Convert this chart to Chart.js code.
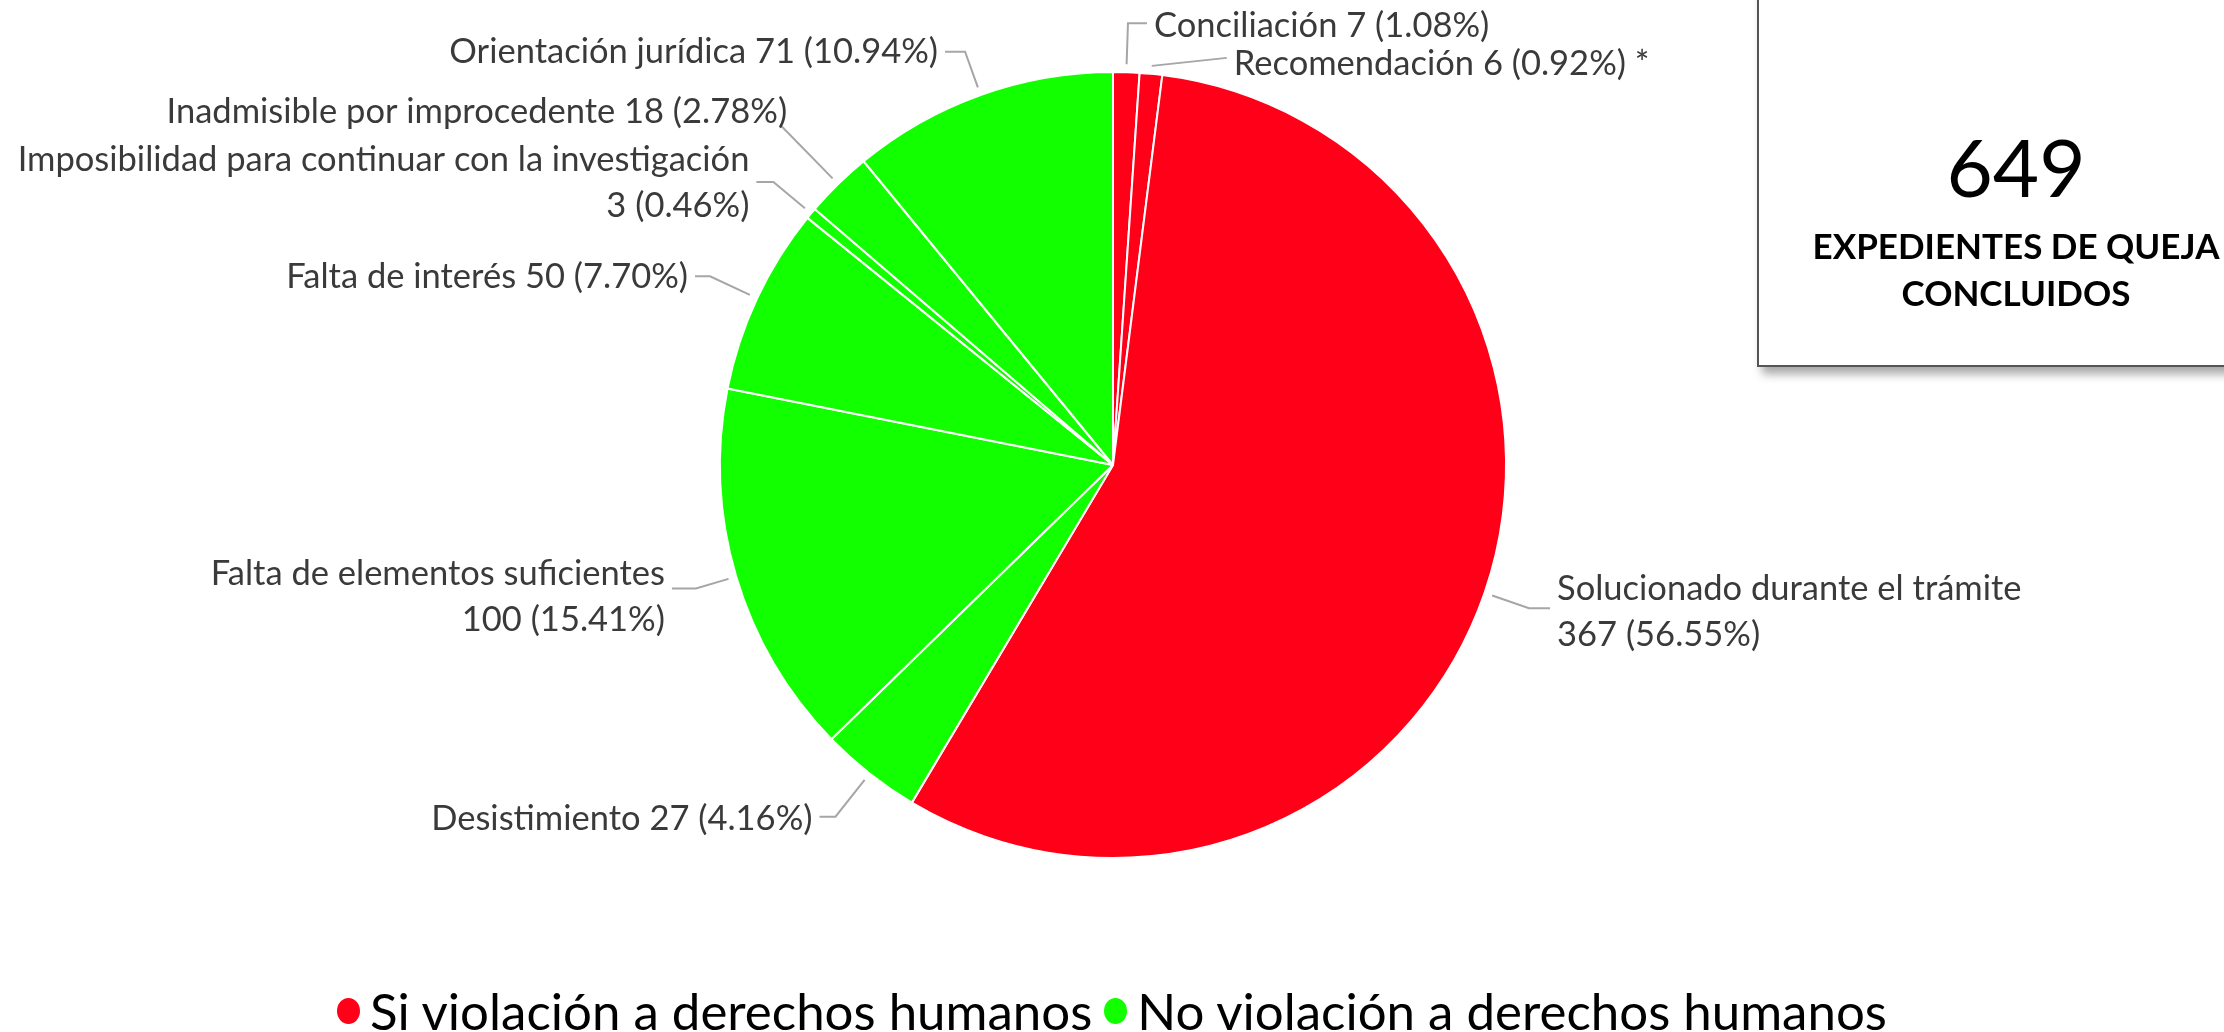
<!DOCTYPE html>
<html>
<head>
<meta charset="utf-8">
<script src="https://cdn.jsdelivr.net/npm/chart.js@4.4.1/dist/chart.umd.min.js"></script>
<style>
html,body{margin:0;padding:0;background:#fff;overflow:hidden}
#wrap{position:relative;width:2224px;height:1032px;overflow:hidden;background:#fff}
#c{position:absolute;left:0;top:0}
#box{position:absolute;left:1757px;top:-30px;width:540px;height:393px;border:2px solid #555;background:#fff;box-shadow:5px 7px 9px rgba(0,0,0,0.35)}
.bt{position:absolute;left:1766px;width:500px;text-align:center;color:#000;font-family:Lato,"Open Sans",sans-serif;white-space:nowrap}
#num{top:118px;font-size:80px;line-height:96px;font-weight:400}
#t1{top:223px;font-size:35px;line-height:44px;font-weight:700}
#t2{top:270px;font-size:35px;line-height:44px;font-weight:700}
#legend{position:absolute;left:0;width:2224px;top:985px;height:52px;display:flex;justify-content:center;align-items:center;font-family:Lato,"Open Sans",sans-serif;font-size:51px;line-height:52px;color:#000;white-space:nowrap}
.li{display:flex;align-items:center;margin:0 6px}
.dot{display:inline-block;width:23px;height:26px;border-radius:50%;margin-right:10px}
</style>
</head>
<body>
<div id="wrap">
  <canvas id="c" width="2224" height="1032"></canvas>
  <div id="box"></div>
  <div class="bt" id="num">649</div>
  <div class="bt" id="t1">EXPEDIENTES DE QUEJA</div>
  <div class="bt" id="t2">CONCLUIDOS</div>
  <div id="legend"></div>
</div>
<script>
// ---- data ----
const categories = [
  "Conciliación",
  "Recomendación",
  "Solucionado durante el trámite",
  "Desistimiento",
  "Falta de elementos suficientes",
  "Falta de interés",
  "Imposibilidad para continuar con la investigación",
  "Inadmisible por improcedente",
  "Orientación jurídica"
];
const values = [7, 6, 367, 27, 100, 50, 3, 18, 71];
const percentLabels = ["1.08", "0.92", "56.55", "4.16", "15.41", "7.70", "0.46", "2.78", "10.94"];
const groups = [0, 0, 0, 1, 1, 1, 1, 1, 1]; // 0 = Si violación, 1 = No violación
const labelSuffix = ["", " *", "", "", "", "", "", "", ""];
const lineBreak = [false, false, true, false, true, false, true, false, false];
const groupNames = ["Si violación a derechos humanos", "No violación a derechos humanos"];
const groupColors = ["#FF0018", "#12FF00"];
const totalLabel = "649";

// ---- label layout (styling only): [radial extension, dx, dy, textDy] ----
const labelLayout = [
  [49, 19, 0, 3],
  [8, 75, -8, 6],
  [47, 21, 0, 4],
  [55, -16, 0, 2],
  [42, -24, 0, 8],
  [52, -15, 0, 1],
  [49, -17, 0, 1],
  [83, 0, 0, -13],
  [46, -20, 0, 0]
];

function labelLines(i) {
  const tail = values[i] + " (" + percentLabels[i] + "%)" + labelSuffix[i];
  return lineBreak[i] ? [categories[i], tail] : [categories[i] + " " + tail];
}

const labelPlugin = {
  id: 'pieLabels',
  afterDraw(chart) {
    const ctx = chart.ctx;
    const meta = chart.getDatasetMeta(0);
    ctx.save();
    ctx.font = '34.5px Lato, "Open Sans", sans-serif';
    ctx.textBaseline = 'middle';
    meta.data.forEach((arc, i) => {
      const p = arc.getProps(['x', 'y', 'startAngle', 'endAngle', 'outerRadius'], true);
      const mid = (p.startAngle + p.endAngle) / 2;
      const cx = Math.cos(mid), cy = Math.sin(mid);
      const L = labelLayout[i];
      const r0 = p.outerRadius + 8;
      const r1 = p.outerRadius + L[0];
      const sx = p.x + cx * r0, sy = p.y + cy * r0;
      const ex = p.x + cx * r1, ey = p.y + cy * r1;
      const fx = ex + L[1], fy = ey + L[2];
      ctx.strokeStyle = '#A6A6A6';
      ctx.lineWidth = 2;
      ctx.beginPath();
      ctx.moveTo(sx, sy);
      ctx.lineTo(ex, ey);
      ctx.lineTo(fx, fy);
      ctx.stroke();
      const lines = labelLines(i);
      const lh = 46;
      const ty0 = fy + L[3] - (lines.length - 1) * lh / 2;
      ctx.fillStyle = '#3A3A3A';
      if (cx >= 0) {
        ctx.textAlign = 'left';
        lines.forEach((t, k) => ctx.fillText(t, fx + 7, ty0 + k * lh));
      } else {
        ctx.textAlign = 'right';
        const tx = i === 7 ? fx + 7 : fx - 7;
        lines.forEach((t, k) => ctx.fillText(t, tx, ty0 + k * lh));
      }
    });
    ctx.restore();
  }
};

new Chart(document.getElementById('c'), {
  type: 'pie',
  data: {
    labels: categories,
    datasets: [{
      data: values,
      backgroundColor: groups.map(g => groupColors[g]),
      borderColor: '#FFFFFF',
      borderWidth: 2,
      hoverOffset: 0
    }]
  },
  options: {
    responsive: false,
    animation: false,
    devicePixelRatio: 1,
    layout: { padding: { left: 719, right: 717, top: 71, bottom: 173 } },
    plugins: {
      legend: { display: false },
      tooltip: { enabled: false }
    }
  },
  plugins: [labelPlugin]
});

// legend (HTML)
const leg = document.getElementById('legend');
groupNames.forEach((n, g) => {
  const it = document.createElement('span');
  it.className = 'li';
  const d = document.createElement('span');
  d.className = 'dot';
  d.style.background = groupColors[g];
  const t = document.createElement('span');
  t.textContent = n;
  it.appendChild(d); it.appendChild(t);
  leg.appendChild(it);
});
document.getElementById('num').textContent = totalLabel;
</script>
</body>
</html>
